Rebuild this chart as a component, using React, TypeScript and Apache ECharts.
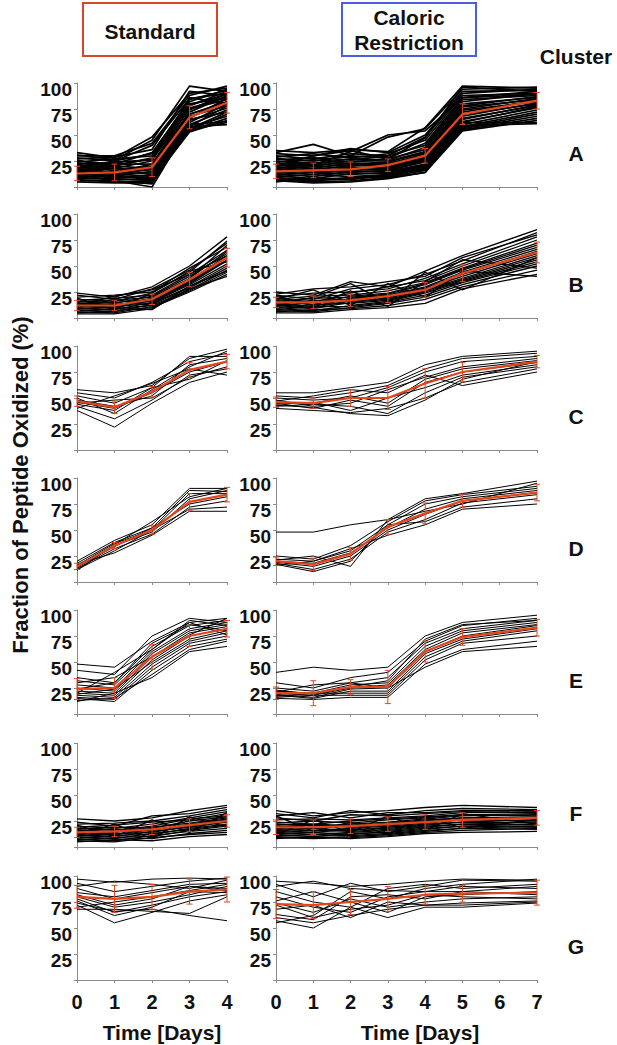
import React, { useEffect, useRef } from "react";
import * as echarts from "echarts";

// ---------- data ----------
const STD_DAYS = [0, 1, 2, 3, 4];
const CR_DAYS = [0, 1, 2, 3, 4, 5, 7];
const STD_TICK_LABELS = ["0", "1", "2", "3", "4"];
const CR_TICK_LABELS = ["0", "1", "2", "3", "4", "5", "6", "7"];
const Y_TICK_LABELS = ["", "25", "50", "75", "100"];
const CLUSTERS = ["A", "B", "C", "D", "E", "F", "G"];

// Cluster A
const A_STD_LINES = [
  [33, 28, 48, 90, 95], [31, 26, 45, 97, 92], [30, 30, 42, 88, 97], [28, 25, 40, 85, 90],
  [27, 29, 36, 92, 88], [25, 22, 33, 82, 94], [24, 27, 30, 80, 86], [23, 20, 28, 78, 92],
  [22, 24, 26, 75, 84], [21, 18, 25, 86, 80], [20, 22, 22, 72, 88], [19, 16, 20, 70, 82],
  [18, 20, 18, 68, 78], [17, 14, 17, 66, 85], [16, 18, 15, 64, 76], [15, 12, 14, 62, 80],
  [14, 15, 12, 60, 74], [13, 10, 11, 58, 78], [12, 13, 10, 56, 72], [11, 9, 9, 55, 70],
  [10, 11, 8, 57, 68], [9, 7, 7, 54, 66], [8, 8, 6, 53, 64], [7, 5, 5, 55, 62],
  [6, 6, 0, 60, 63], [5, 4, 4, 58, 60], [12, 6, 3, 65, 72], [22, 12, 6, 74, 90],
  [18, 25, 32, 84, 93], [8, 14, 22, 76, 86], [26, 19, 12, 70, 82], [14, 21, 27, 79, 89],
];
const A_STD_MEAN = [13, 14, 19, 67, 81];
const A_STD_ERR = [7, 8, 9, 11, 10];

const A_CR_LINES = [
  [35, 33, 36, 34, 57, 97, 95], [33, 41, 30, 48, 56, 94, 96], [32, 30, 37, 33, 50, 92, 93],
  [30, 27, 32, 30, 48, 90, 94], [29, 32, 28, 32, 45, 88, 90], [27, 25, 30, 28, 42, 86, 92],
  [26, 28, 26, 30, 40, 84, 88], [25, 22, 27, 26, 38, 82, 90], [24, 26, 24, 27, 36, 80, 86],
  [23, 20, 25, 25, 34, 78, 87], [22, 24, 22, 24, 33, 77, 84], [21, 18, 23, 22, 32, 75, 85],
  [20, 22, 20, 23, 30, 74, 82], [19, 16, 21, 21, 29, 72, 83], [18, 20, 18, 20, 28, 70, 80],
  [17, 14, 19, 19, 27, 68, 81], [16, 18, 16, 18, 26, 66, 78], [15, 12, 17, 17, 25, 65, 79],
  [14, 16, 14, 16, 24, 63, 76], [13, 10, 15, 15, 22, 62, 77], [12, 14, 12, 14, 21, 60, 74],
  [11, 8, 13, 13, 20, 58, 72], [10, 12, 10, 12, 19, 57, 70], [9, 7, 9, 11, 18, 56, 68],
  [8, 6, 8, 10, 16, 55, 66], [7, 5, 6, 9, 14, 54, 64], [6, 4, 5, 8, 14, 62, 62],
  [5, 9, 7, 12, 17, 59, 61], [28, 21, 34, 50, 54, 86, 89], [20, 30, 35, 27, 47, 96, 92],
];
const A_CR_MEAN = [15, 16, 17, 21, 30, 70, 83];
const A_CR_ERR = [7, 7, 7, 6, 7, 10, 8];

// Cluster B
const B_STD_LINES = [
  [24, 20, 30, 50, 78], [22, 18, 28, 46, 72], [20, 22, 25, 48, 68], [18, 16, 24, 44, 74],
  [17, 19, 22, 42, 65], [16, 14, 21, 40, 62], [15, 17, 20, 38, 64], [14, 12, 19, 36, 60],
  [13, 15, 18, 35, 58], [12, 10, 17, 34, 56], [11, 13, 16, 33, 55], [10, 8, 15, 32, 52],
  [9, 11, 14, 30, 50], [8, 6, 13, 29, 48], [7, 9, 12, 27, 46], [6, 5, 11, 26, 44],
  [5, 7, 10, 25, 42], [4, 4, 9, 28, 40], [19, 8, 24, 45, 54], [10, 18, 12, 38, 70],
  [14, 9, 8, 31, 45], [12, 21, 27, 42, 60],
];
const B_STD_MEAN = [12, 12, 18, 37, 58];
const B_STD_ERR = [5, 5, 5, 7, 9];

const B_CR_LINES = [
  [25, 22, 35, 30, 45, 60, 85], [23, 28, 30, 35, 40, 58, 80], [22, 18, 28, 32, 42, 55, 82],
  [20, 24, 25, 28, 38, 52, 78], [19, 15, 24, 30, 36, 50, 75], [18, 21, 22, 26, 34, 48, 72],
  [17, 13, 21, 24, 33, 47, 70], [16, 19, 20, 23, 32, 46, 68], [15, 11, 19, 22, 30, 44, 66],
  [14, 17, 18, 21, 29, 42, 64], [13, 10, 17, 20, 28, 40, 62], [12, 15, 16, 19, 27, 38, 60],
  [11, 9, 15, 18, 26, 37, 58], [10, 13, 14, 17, 25, 36, 56], [9, 7, 12, 16, 24, 35, 54],
  [8, 11, 11, 15, 22, 34, 52], [7, 6, 10, 14, 20, 32, 50], [6, 8, 9, 12, 18, 30, 46],
  [5, 5, 8, 10, 14, 28, 42], [18, 27, 12, 33, 20, 45, 40], [12, 20, 33, 15, 44, 27, 58],
  [21, 12, 26, 11, 35, 56, 48],
];
const B_CR_MEAN = [15, 15, 17, 21, 27, 43, 63];
const B_CR_ERR = [5, 6, 6, 6, 7, 8, 10];

// Cluster C
const C_STD_LINES = [
  [58, 55, 62, 88, 97], [55, 50, 65, 85, 93], [52, 45, 60, 90, 90], [50, 35, 58, 80, 95],
  [48, 42, 52, 82, 88], [46, 40, 55, 75, 85], [45, 48, 50, 70, 80], [44, 38, 60, 68, 86],
  [42, 30, 48, 72, 78], [38, 22, 45, 65, 75], [40, 52, 64, 78, 72],
];
const C_STD_MEAN = [47, 41, 56, 77, 85];
const C_STD_ERR = [5, 6, 5, 7, 7];

const C_CR_LINES = [
  [55, 55, 60, 65, 82, 90, 95], [52, 50, 55, 62, 78, 88, 93], [50, 48, 50, 60, 75, 85, 90],
  [48, 42, 45, 58, 70, 80, 88], [46, 45, 52, 45, 68, 78, 86], [45, 40, 48, 42, 65, 75, 84],
  [44, 46, 38, 50, 60, 72, 82], [42, 44, 42, 35, 55, 70, 80], [40, 38, 36, 40, 50, 65, 78],
  [47, 52, 58, 55, 72, 62, 75], [43, 41, 35, 33, 48, 68, 85],
];
const C_CR_MEAN = [46, 45, 50, 50, 64, 75, 85];
const C_CR_ERR = [5, 5, 8, 11, 14, 9, 6];

// Cluster D
const D_STD_LINES = [
  [20, 40, 55, 90, 90], [18, 38, 52, 88, 87], [16, 37, 50, 85, 85], [15, 35, 48, 80, 88],
  [14, 34, 52, 75, 82], [13, 32, 46, 72, 78], [12, 30, 50, 70, 72], [17, 28, 45, 68, 68],
  [11, 36, 58, 82, 90],
];
const D_STD_MEAN = [15, 35, 50, 77, 84];
const D_STD_ERR = [3, 3, 4, 8, 7];

const D_CR_LINES = [
  [48, 48, 55, 60, 80, 85, 97], [25, 22, 35, 58, 78, 84, 92], [22, 20, 30, 55, 75, 82, 90],
  [20, 18, 28, 52, 70, 80, 88], [19, 15, 25, 50, 65, 78, 86], [18, 12, 22, 48, 60, 76, 84],
  [17, 10, 20, 55, 58, 72, 80], [16, 20, 32, 45, 55, 70, 75], [21, 25, 15, 60, 68, 75, 95],
];
const D_CR_MEAN = [20, 17, 27, 53, 66, 78, 86];
const D_CR_ERR = [4, 6, 6, 7, 10, 6, 8];

// Cluster E
const E_STD_LINES = [
  [48, 45, 70, 88, 92], [42, 38, 75, 92, 88], [35, 30, 65, 85, 90], [32, 28, 62, 90, 85],
  [28, 25, 60, 82, 88], [25, 22, 58, 80, 86], [22, 20, 55, 78, 84], [20, 18, 52, 75, 82],
  [19, 24, 50, 72, 80], [18, 16, 48, 70, 78], [16, 14, 45, 68, 75], [15, 12, 42, 65, 72],
  [13, 15, 38, 62, 70], [12, 20, 35, 60, 65], [24, 30, 68, 86, 80], [30, 35, 55, 76, 92],
  [20, 40, 62, 88, 76],
];
const E_STD_MEAN = [24, 25, 55, 75, 82];
const E_STD_ERR = [10, 10, 12, 10, 8];

const E_CR_LINES = [
  [40, 45, 42, 45, 75, 88, 95], [30, 25, 35, 40, 70, 85, 92], [25, 22, 30, 35, 68, 82, 90],
  [22, 20, 28, 30, 65, 80, 88], [20, 18, 25, 28, 62, 78, 86], [19, 16, 24, 25, 60, 75, 85],
  [18, 15, 22, 22, 58, 72, 82], [17, 20, 20, 20, 55, 70, 80], [16, 18, 18, 18, 52, 68, 75],
  [15, 14, 16, 16, 48, 62, 70], [21, 28, 30, 25, 45, 60, 65], [23, 19, 26, 32, 72, 86, 90],
];
const E_CR_MEAN = [20, 20, 26, 26, 60, 74, 83];
const E_CR_ERR = [6, 12, 7, 16, 10, 8, 8];

// Cluster F
const F_STD_LINES = [
  [27, 25, 28, 35, 40], [24, 20, 30, 32, 38], [22, 23, 25, 30, 36], [20, 18, 22, 28, 34],
  [19, 21, 24, 26, 32], [18, 16, 20, 27, 30], [17, 19, 18, 25, 29], [16, 14, 19, 23, 28],
  [15, 17, 16, 22, 27], [14, 12, 17, 21, 26], [13, 15, 14, 20, 25], [12, 10, 15, 19, 24],
  [11, 13, 12, 18, 22], [10, 8, 13, 17, 21], [9, 11, 10, 16, 20], [8, 6, 11, 15, 18],
  [7, 9, 8, 13, 16], [6, 5, 9, 12, 14], [5, 7, 6, 10, 12], [21, 10, 26, 14, 33],
  [11, 22, 8, 29, 19],
];
const F_STD_MEAN = [14, 15, 17, 21, 25];
const F_STD_ERR = [5, 5, 5, 6, 6];

const F_CR_LINES = [
  [35, 30, 33, 35, 38, 40, 38], [32, 28, 35, 31, 35, 37, 36], [30, 33, 28, 33, 33, 35, 35],
  [28, 25, 31, 30, 32, 34, 33], [26, 27, 26, 28, 30, 33, 34], [24, 22, 25, 27, 29, 31, 32],
  [23, 25, 23, 26, 28, 31, 30], [22, 20, 22, 24, 27, 30, 31], [21, 22, 20, 23, 26, 28, 29],
  [20, 18, 21, 22, 25, 28, 27], [19, 21, 19, 21, 24, 26, 28], [18, 16, 18, 20, 23, 26, 25],
  [17, 18, 16, 19, 22, 24, 26], [16, 14, 17, 18, 21, 24, 23], [15, 16, 15, 17, 20, 22, 24],
  [14, 12, 14, 16, 19, 22, 21], [13, 14, 12, 15, 18, 20, 22], [12, 10, 13, 14, 17, 20, 19],
  [11, 12, 11, 13, 16, 18, 20], [10, 9, 10, 12, 15, 18, 17], [9, 8, 9, 11, 14, 16, 18],
  [8, 10, 8, 10, 13, 14, 15], [30, 15, 24, 12, 30, 18, 26], [12, 26, 14, 30, 16, 32, 22],
];
const F_CR_MEAN = [19, 19, 20, 22, 24, 26, 28];
const F_CR_ERR = [7, 7, 7, 7, 7, 7, 7];

// Cluster G
const G_STD_LINES = [
  [97, 94, 97, 98, 97], [93, 85, 90, 95, 98], [90, 95, 92, 88, 96], [84, 80, 86, 92, 93],
  [82, 72, 78, 90, 88], [80, 70, 75, 82, 90], [78, 65, 72, 80, 85], [76, 62, 70, 85, 84],
  [74, 66, 68, 62, 57], [72, 55, 65, 76, 82], [70, 75, 80, 86, 92], [68, 68, 66, 64, 80],
  [88, 78, 84, 90, 86],
];
const G_STD_MEAN = [80, 78, 80, 85, 87];
const G_STD_ERR = [11, 13, 12, 12, 12];

const G_CR_LINES = [
  [95, 93, 90, 92, 95, 97, 96], [92, 80, 93, 85, 90, 96, 95], [85, 75, 70, 88, 92, 88, 92],
  [80, 70, 65, 80, 85, 90, 88], [76, 85, 75, 65, 80, 82, 85], [74, 65, 78, 70, 75, 78, 80],
  [72, 60, 68, 72, 82, 80, 78], [68, 72, 60, 75, 72, 72, 75], [63, 58, 80, 82, 78, 85, 90],
  [60, 55, 62, 68, 72, 74, 76], [57, 50, 70, 60, 70, 70, 74], [55, 62, 85, 78, 88, 92, 97],
  [90, 95, 88, 86, 85, 85, 82],
];
const G_CR_MEAN = [73, 72, 75, 78, 82, 83, 84];
const G_CR_ERR = [14, 13, 12, 12, 9, 8, 12];

const STD_PANELS = [
  { lines: A_STD_LINES, mean: A_STD_MEAN, err: A_STD_ERR },
  { lines: B_STD_LINES, mean: B_STD_MEAN, err: B_STD_ERR },
  { lines: C_STD_LINES, mean: C_STD_MEAN, err: C_STD_ERR },
  { lines: D_STD_LINES, mean: D_STD_MEAN, err: D_STD_ERR },
  { lines: E_STD_LINES, mean: E_STD_MEAN, err: E_STD_ERR },
  { lines: F_STD_LINES, mean: F_STD_MEAN, err: F_STD_ERR },
  { lines: G_STD_LINES, mean: G_STD_MEAN, err: G_STD_ERR },
];
const CR_PANELS = [
  { lines: A_CR_LINES, mean: A_CR_MEAN, err: A_CR_ERR },
  { lines: B_CR_LINES, mean: B_CR_MEAN, err: B_CR_ERR },
  { lines: C_CR_LINES, mean: C_CR_MEAN, err: C_CR_ERR },
  { lines: D_CR_LINES, mean: D_CR_MEAN, err: D_CR_ERR },
  { lines: E_CR_LINES, mean: E_CR_MEAN, err: E_CR_ERR },
  { lines: F_CR_LINES, mean: F_CR_MEAN, err: F_CR_ERR },
  { lines: G_CR_LINES, mean: G_CR_MEAN, err: G_CR_ERR },
];

// ---------- layout / style ----------
const ROW_TOPS = [83, 214, 346, 478, 610, 743, 876];
const PANEL_H = 104;
const ROW_LINE_WIDTHS = [1.7, 1.3, 1, 1, 1, 1.3, 1];
const FONT = "'Liberation Sans', Arial, Helvetica, sans-serif";
const RED = "#e4461c";
const AXIS = "#8a8a8a";

function buildOption() {
  const grid: any[] = [];
  const xAxis: any[] = [];
  const yAxis: any[] = [];
  const series: any[] = [];

  for (let r = 0; r < 7; r++) {
    for (let c = 0; c < 2; c++) {
      const idx = r * 2 + c;
      const isCR = c === 1;
      const days = isCR ? CR_DAYS : STD_DAYS;
      const panel = isCR ? CR_PANELS[r] : STD_PANELS[r];
      const tickLabels = isCR ? CR_TICK_LABELS : STD_TICK_LABELS;
      grid.push({
        left: isCR ? 276 : 77,
        top: ROW_TOPS[r],
        width: isCR ? 261 : 150,
        height: PANEL_H,
      });
      xAxis.push({
        type: "value",
        gridIndex: idx,
        min: 0,
        max: isCR ? 7 : 4,
        interval: 1,
        axisLine: { show: true, lineStyle: { color: AXIS, width: 1 } },
        axisTick: { show: true, length: 3, lineStyle: { color: AXIS } },
        splitLine: { show: false },
        axisLabel: {
          show: r === 6,
          margin: 12,
          fontSize: 20,
          fontWeight: "bold",
          color: "#111",
          fontFamily: FONT,
          formatter: (v: number) => tickLabels[Math.round(v)] ?? "",
        },
      });
      yAxis.push({
        type: "value",
        gridIndex: idx,
        min: 0,
        max: 100,
        interval: 25,
        axisLine: { show: true, lineStyle: { color: AXIS, width: 1 } },
        axisTick: { show: true, length: 3, lineStyle: { color: AXIS } },
        splitLine: { show: false },
        axisLabel: {
          show: true,
          margin: 5,
          fontSize: 19,
          fontWeight: "bold",
          color: "#111",
          fontFamily: FONT,
          verticalAlign: "top",
          lineHeight: 12,
          formatter: (v: number) => Y_TICK_LABELS[Math.round(v / 25)] ?? "",
        },
      });

      panel.lines.forEach((ln) => {
        series.push({
          type: "line",
          xAxisIndex: idx,
          yAxisIndex: idx,
          data: days.map((d, j) => [d, ln[j]]),
          symbol: "none",
          silent: true,
          lineStyle: { color: "#000", width: ROW_LINE_WIDTHS[r] },
          z: 2,
        });
      });
      series.push({
        type: "line",
        xAxisIndex: idx,
        yAxisIndex: idx,
        data: days.map((d, j) => [d, panel.mean[j]]),
        symbol: "none",
        silent: true,
        lineStyle: { color: RED, width: 2.2 },
        z: 4,
      });
      series.push({
        type: "custom",
        xAxisIndex: idx,
        yAxisIndex: idx,
        silent: true,
        clip: false,
        z: 5,
        encode: { x: 0, y: [1, 2] },
        data: days.map((d, j) => [d, panel.mean[j] - panel.err[j], panel.mean[j] + panel.err[j]]),
        renderItem: (params: any, api: any) => {
          const x = api.value(0);
          const lo = api.coord([x, api.value(1)]);
          const hi = api.coord([x, api.value(2)]);
          const w = 3;
          const st = { stroke: RED, lineWidth: 1 };
          return {
            type: "group",
            children: [
              { type: "line", shape: { x1: lo[0], y1: lo[1], x2: hi[0], y2: hi[1] }, style: st },
              { type: "line", shape: { x1: lo[0] - w, y1: lo[1], x2: lo[0] + w, y2: lo[1] }, style: st },
              { type: "line", shape: { x1: hi[0] - w, y1: hi[1], x2: hi[0] + w, y2: hi[1] }, style: st },
            ],
          };
        },
      });
    }
  }

  const txt = (x: number, y: number, text: string, size: number, extra: any = {}) => ({
    type: "text",
    x,
    y,
    silent: true,
    style: {
      text,
      fill: "#111",
      font: `bold ${size}px ${FONT}`,
      align: "center",
      verticalAlign: "middle",
      ...extra,
    },
  });

  const graphic: any[] = [
    {
      type: "rect",
      shape: { x: 83, y: 3, width: 134, height: 53 },
      style: { fill: "none", stroke: "#d4472a", lineWidth: 2 },
      silent: true,
    },
    txt(150, 31, "Standard", 21),
    {
      type: "rect",
      shape: { x: 342, y: 3, width: 134, height: 53 },
      style: { fill: "none", stroke: "#4a5fdc", lineWidth: 2 },
      silent: true,
    },
    txt(409, 30, "Caloric\nRestriction", 21, { lineHeight: 25 }),
    txt(576, 56, "Cluster", 21),
    txt(162, 1032, "Time [Days]", 21),
    txt(420, 1032, "Time [Days]", 21),
    {
      type: "text",
      x: 20,
      y: 485,
      rotation: Math.PI / 2,
      silent: true,
      style: {
        text: "Fraction of Peptide Oxidized (%)",
        fill: "#111",
        font: `bold 22px ${FONT}`,
        align: "center",
        verticalAlign: "middle",
      },
    },
  ];
  CLUSTERS.forEach((c, r) => graphic.push(txt(576, ROW_TOPS[r] + 70, c, 21)));

  return {
    animation: false,
    backgroundColor: "#fff",
    grid,
    xAxis,
    yAxis,
    series,
    graphic,
  };
}

export default function App() {
  const ref = useRef<HTMLDivElement>(null);
  useEffect(() => {
    document.body.style.margin = "0";
    if (!ref.current) return;
    const chart = echarts.init(ref.current, undefined, { renderer: "svg" });
    chart.setOption(buildOption() as any);
    return () => chart.dispose();
  }, []);
  return <div ref={ref} style={{ width: 617, height: 1045 }} />;
}
